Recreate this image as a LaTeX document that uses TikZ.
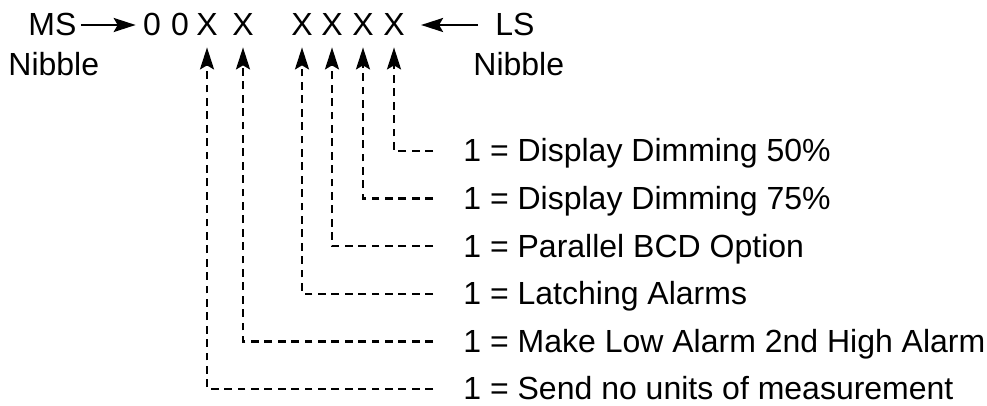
\documentclass[tikz,border=0pt]{standalone}
\usepackage{fontspec}
\setmainfont{Liberation Sans}
\usetikzlibrary{arrows.meta}
\tikzset{
  txt/.style={inner sep=0pt,text height=11pt,text depth=0pt,font=\fontsize{16}{19}\selectfont},
  bit/.style={txt,anchor=base,inner ysep=5.5pt},
  word/.style={txt,anchor=base west},
  lbl/.style={txt,anchor=base west,inner xsep=15pt},
  tip/.style={-{Stealth[length=11pt,width=7pt,inset=2pt]},line width=1.2pt},
  bitline/.style={tip,dash pattern=on 3.9pt off 2.8pt}
}

\begin{document}
\begin{tikzpicture}[x=0.5pt,y=-0.5pt]
\useasboundingbox (0,0) rectangle (987,406);
% nibble ends
\node[word] (ms) at (28,36) {MS};\node[word] (msn) at (8,76) {Nibble};
\node[word] (ls) at (495,36) {LS};\node[word] (lsn) at (473,76) {Nibble};
% bits, most significant first
\node[bit] (z1) at (152,36) {0};\node[bit] (z0) at (180,36) {0};
\node[bit] (b5) at (207,36) {X};\node[bit] (b4) at (243,36) {X};
\node[bit] (b3) at (302,36) {X};\node[bit] (b2) at (332,36) {X};
\node[bit] (b1) at (363,36) {X};\node[bit] (b0) at (394,36) {X};
\draw[tip,shorten <=2pt,shorten >=3.5pt] (ms.east) -- (z1.west);
\draw[tip,shorten <=8.5pt,shorten >=8pt] (ls.west) -- (b0.east);
% one line per flag
\foreach \b/\y/\t in {0/162/Display Dimming 50\%,1/209.6/Display Dimming 75\%,
  2/257.2/Parallel BCD Option,3/304.8/Latching Alarms,
  4/352.4/Make Low Alarm 2nd High Alarm,5/400/Send no units of measurement}{
  \node[lbl] (l\b) at (433,\y) {1 = \t};
  \draw[bitline] (l\b.west) -| (b\b.south);}
\end{tikzpicture}
\end{document}
